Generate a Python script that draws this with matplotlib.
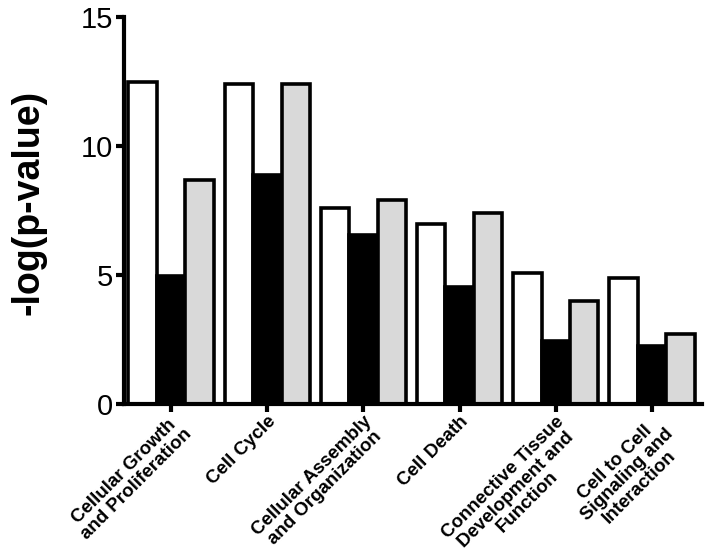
import matplotlib.pyplot as plt
import numpy as np

plt.rcParams['font.family'] = ['Liberation Sans', 'DejaVu Sans']

CATEGORIES = [
	"Cellular Growth\nand Proliferation",
	"Cell Cycle",
	"Cellular Assembly\nand Organization",
	"Cell Death",
	"Connective Tissue\nDevelopment and\nFunction",
	"Cell to Cell\nSignaling and\nInteraction",
]
# three series per category (white, black, gray bars)
WHITE = [12.5, 12.4, 7.6, 7.0, 5.1, 4.9]
BLACK = [4.95, 8.9, 6.55, 4.55, 2.45, 2.25]
GRAY = [8.7, 12.4, 7.9, 7.4, 4.0, 2.7]

fig = plt.figure(figsize=(7.09, 5.55), dpi=100)
ax = fig.add_axes([0.175, 0.272, 0.815, 0.697])

X = np.arange(len(CATEGORIES))
W = 0.296
for i, (vals, col) in enumerate([(WHITE, "white"), (BLACK, "black"), (GRAY, "#d9d9d9")]):
	ax.bar(X + (i - 1) * W, vals, width=W, color=col, edgecolor="black", linewidth=2.6)

ax.set_xlim(-0.49, 5.52)
ax.set_ylim(0, 15)
ax.set_yticks([0, 5, 10, 15])
ax.set_xticks(X)
ax.set_xticklabels(CATEGORIES, rotation=45, ha="right", va="top", rotation_mode="anchor",
	fontsize=13.5, fontweight="bold", linespacing=1.02)
for lbl in ax.get_xticklabels():
	lbl.set_multialignment("center")

ax.spines["top"].set_visible(False)
ax.spines["right"].set_visible(False)
for s in ["left", "bottom"]:
	ax.spines[s].set_linewidth(3)
ax.tick_params(axis="y", length=6, width=3, labelsize=21, pad=2)
ax.tick_params(axis="x", length=6, width=3, pad=0.5)

ax.set_ylabel("-log(p-value)", fontsize=27, fontweight="bold")
ax.yaxis.set_label_coords(-0.135, 0.52)

fig.savefig("out.png", dpi=100)
